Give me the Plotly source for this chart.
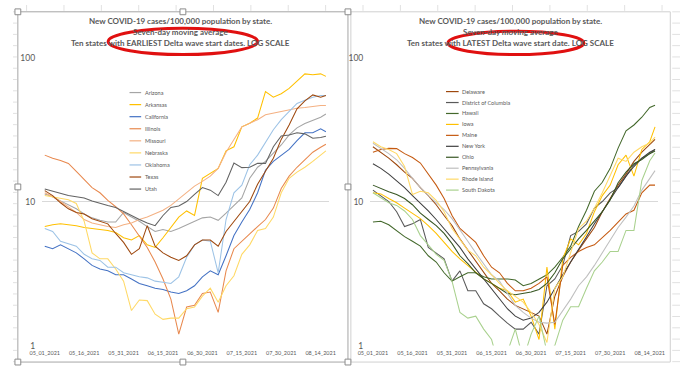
import plotly.graph_objects as go

W, H = 687, 369

# ---------------- data ----------------
dates = ["2021-05-01", "2021-05-04", "2021-05-07", "2021-05-10", "2021-05-13", "2021-05-16",
         "2021-05-19", "2021-05-22", "2021-05-25", "2021-05-28", "2021-05-31", "2021-06-03",
         "2021-06-06", "2021-06-09", "2021-06-12", "2021-06-15", "2021-06-18", "2021-06-21",
         "2021-06-24", "2021-06-27", "2021-06-30", "2021-07-03", "2021-07-06", "2021-07-09",
         "2021-07-12", "2021-07-15", "2021-07-18", "2021-07-21", "2021-07-24", "2021-07-27",
         "2021-07-30", "2021-08-02", "2021-08-05", "2021-08-08", "2021-08-11", "2021-08-14",
         "2021-08-16"]

tick_dates = ["2021-05-01", "2021-05-16", "2021-05-31", "2021-06-15", "2021-06-30",
              "2021-07-15", "2021-07-30", "2021-08-14"]
tick_text = ["05_01_2021", "05_16_2021", "05_31_2021", "06_15_2021", "06_30_2021",
             "07_15_2021", "07_30_2021", "08_14_2021"]

# Left chart: earliest Delta wave start
left_states = ["Arizona", "Arkansas", "California", "Illinois", "Missouri",
               "Nebraska", "Oklahoma", "Texas", "Utah"]
arizona = [11.3, 10.8, 10.1, 9.5, 8.9, 8.2, 7.7, 7.4, 7.2, 7.2, 8.4, 7.8, 7.3, 6.7, 6.2, 6.4, 6.2,
           6.5, 6.9, 7.3, 7.7, 7.8, 7.4, 8.3, 9.4, 10.6, 14.5, 17.3, 19.0, 21.6, 24.7, 29, 32.5,
           34.8, 36.5, 38.5, 40.5]
arkansas = [6.7, 6.9, 7.0, 6.9, 6.8, 6.6, 6.5, 6.4, 6.3, 6.1, 5.6, 5.4, 5.8, 5.0, 4.8, 5.6, 6.6,
            7.8, 8.6, 8.0, 14.5, 15.7, 17.0, 22.5, 24, 33, 35, 38, 58, 53, 56, 61, 68, 77, 76,
            77, 74]
california = [4.9, 4.7, 5.0, 4.7, 4.4, 4.0, 3.6, 3.4, 3.3, 3.1, 3.1, 2.9, 2.7, 2.6, 2.5, 2.45,
              2.35, 2.3, 2.4, 2.6, 3.0, 3.3, 3.1, 4.2, 5.8, 7.2, 8.8, 11.5, 16.5, 19, 20.8, 23,
              26.5, 30, 30, 32, 30.5]
illinois = [21, 20, 19.3, 18.4, 16.2, 14.2, 12.5, 11.5, 10.2, 9.2, 8.2, 6.9, 5.8, 4.8, 3.8, 2.9,
            2.1, 1.2, 1.85, 1.9, 2.3, 2.35, 1.7, 3.3, 4.7, 5.3, 6.0, 6.7, 7.5, 9.0, 12.3, 15.0,
            17.3, 19.5, 22.0, 23.8, 25]
missouri = [11.5, 10.8, 10.0, 9.2, 8.4, 7.5, 7.1, 6.9, 6.7, 6.6, 6.9, 7.1, 7.5, 7.8, 8.2, 8.7,
            9.4, 10.4, 11.6, 12.8, 13.8, 15.0, 17.0, 22, 27, 33, 35, 37, 40, 41, 42, 43.5, 44.5,
            45, 46, 46.5, 46.5]
nebraska = [11, 10.8, 10.5, 10.3, 9.7, 7.3, 4.4, 4.0, 4.0, 3.4, 2.8, 1.75, 2.07, 2.05, 1.65,
            1.52, 1.55, 1.55, 1.8, 1.85, 2.2, 2.5, 2.0, 2.6, 3.05, 4.3, 5.0, 6.3, 6.5, 7.8, 11.5,
            14.5, 16.0, 17.3, 19.0, 21.0, 22.5]
oklahoma = [6.5, 6.2, 5.3, 5.1, 4.9, 4.3, 4.0, 3.9, 3.5, 3.5, 3.2, 3.1, 3.0, 2.95, 2.8, 2.75,
            2.7, 3.0, 4.1, 5.0, 5.4, 5.3, 3.2, 7.5, 11.5, 13, 18, 21, 26, 31.5, 37, 42, 48, 50.5,
            53, 54.5, 54.5]
texas = [11.9, 11.0, 9.8, 8.9, 8.4, 8.2, 7.6, 7.3, 7.0, 6.0, 5.2, 4.3, 4.7, 6.8, 4.9, 4.4, 4.1,
         3.9, 4.2, 5.0, 5.4, 5.4, 4.9, 6.2, 7.3, 8.6, 10.0, 13.2, 16.4, 20, 27, 34, 44, 50, 55,
         53, 54.5]
utah = [12.2, 11.8, 11.4, 11.0, 10.8, 10.6, 10.1, 9.7, 9.4, 9.1, 8.5, 8.0, 7.5, 7.1, 6.8, 8.0,
        9.1, 9.3, 10.0, 11.2, 12.5, 12.0, 11.0, 13.6, 18.5, 17.2, 17.3, 18.4, 18.4, 24, 28.5, 29,
        30, 29.5, 27.5, 27.8, 28.4]
left_values = [arizona, arkansas, california, illinois, missouri, nebraska, oklahoma, texas, utah]
left_colors = ["#A5A5A5", "#FFC000", "#4472C4", "#E8894F", "#F4B183",
               "#FFD966", "#9DC3E6", "#9E480E", "#636363"]

# Right chart: latest Delta wave start
right_states = ["Delaware", "District of Columbia", "Hawaii", "Iowa", "Maine",
                "New York", "Ohio", "Pennsylvania", "Rhode Island", "South Dakota"]
delaware = [24, 22, 20, 18, 16, 14.5, 12.5, 11, 9.5, 8, 6.8, 5.5, 4.6, 3.8, 3.2, 2.7, 2.4, 2.1,
            1.9, 1.8, 1.7, 1.6, 1.2, 2.2, 3.0, 3.8, 4.6, 5.5, 6.6, 8.5, 10.5, 13, 15.5, 19, 22,
            25, 27]
dist_columbia = [12, 11, 10, 8.5, 6.7, 7.0, 7.5, 4.8, 4.4, 4.0, 2.8, 3.3, 2.4, 2.4, 1.95, 1.8,
                 1.6, 1.43, 1.3, 1.3, 1.45, 1.2, 2.6, 2.9, 3.6, 5.8, 6.2, 7.0, 9.0, 10.0, 11.5,
                 12.5, 15, 18, 20, 21.5, 23]
hawaii = [7.2, 7.3, 6.9, 6.3, 5.7, 5.3, 4.9, 4.2, 3.8, 3.2, 2.8, 3.0, 3.2, 3.2, 3.0, 2.9, 2.9,
          2.9, 2.85, 2.6, 2.7, 2.9, 3.1, 3.5, 4.1, 4.9, 6.7, 8.7, 11.8, 13.6, 17, 23.5, 31, 34,
          38.5, 45, 46.6]
iowa = [11.5, 11.3, 10.5, 9.8, 9.0, 8.3, 7.6, 6.8, 6.0, 5.2, 4.5, 4.0, 3.6, 3.2, 2.9, 2.7, 2.5,
        2.4, 2.0, 2.1, 1.6, 1.1, 3.5, 1.3, 4.0, 5.5, 5.0, 6.0, 8.5, 11, 13, 18, 21, 15, 23, 26,
        33]
maine = [22, 23, 23.4, 23.3, 21.5, 20.2, 18.5, 15.5, 13, 10.5, 8, 6.5, 5.8, 5.2, 4.2, 3.5, 3.2,
         2.7, 2.4, 2.4, 2.5, 2.7, 3.0, 1.4, 3.6, 4.1, 4.5, 4.8, 5.0, 5.6, 6.3, 7.2, 8.2, 8.7,
         11.5, 13, 13]
new_york = [18.3, 17, 15.5, 14, 12.5, 11, 9.8, 8.6, 7.5, 6.5, 5.6, 4.8, 4.0, 3.4, 2.9, 2.5, 2.1,
            1.8, 1.6, 1.5, 1.55, 1.7, 2.0, 2.5, 3.1, 3.8, 4.7, 5.7, 7.0, 8.5, 10.5, 12.5, 15,
            17.5, 20, 22, 23]
ohio = [13, 12.3, 11.7, 11.2, 10.5, 9.5, 8.3, 7.5, 6.8, 6.0, 5.1, 4.2, 3.7, 3.2, 2.9, 2.7, 2.5,
        2.3, 2.25, 2.3, 2.35, 2.45, 2.7, 3.2, 4.0, 4.7, 5.5, 6.3, 7.3, 8.5, 10.3, 13.5, 16, 18.3,
        19.6, 21.5, 22.4]
pennsylvania = [25.4, 23.5, 21.5, 19.5, 17, 14.5, 12.5, 11, 9.8, 8.8, 7.6, 6.4, 5.3, 4.4, 3.7,
                3.1, 2.8, 2.3, 1.9, 1.7, 1.55, 1.45, 1.43, 1.45, 1.75, 2.1, 2.6, 3.0, 3.6, 4.4,
                5.4, 6.6, 7.8, 9.3, 12.0, 14.5, 16.4]
rhode_island = [26, 24, 23, 21.5, 17.5, 11.2, 11.8, 11.5, 10.2, 8.5, 6.5, 5.5, 4.6, 4.2, 3.5,
                3.1, 2.7, 2.4, 2.2, 2.0, 1.7, 1.4, 1.05, 2.5, 3.0, 4.5, 6.5, 7.3, 9.0, 11.5, 15,
                20, 19, 22, 24, 25.5, 28]
south_dakota = [11.5, 10.6, 9.8, 9.4, 8.6, 7.5, 5.8, 5.0, 4.3, 3.9, 2.8, 1.7, 1.55, 1.6, 1.3,
                1.1, 0.7, 0.9, 1.3, 0.8, 1.2, 1.6, 0.9, 1.0, 1.5, 1.86, 1.86, 2.5, 3.3, 3.8, 4.5,
                4.5, 6.3, 6.3, 14, 19.2, 21.7]
right_values = [delaware, dist_columbia, hawaii, iowa, maine, new_york, ohio,
                pennsylvania, rhode_island, south_dakota]
right_colors = ["#9E480E", "#595959", "#43682B", "#FFC000", "#C55A11",
                "#404040", "#375623", "#BFBFBF", "#FFD966", "#A9D18E"]

y_ticks = [1, 10, 100]

titles_left = ["New COVID-19 cases/100,000 population by state.",
               "Seven-day moving average",
               "Ten states with EARLIEST Delta wave start dates. LOG SCALE"]
titles_right = ["New COVID-19 cases/100,000 population by state.",
                "Seven-day moving average",
                "Ten states with LATEST Delta wave start date. LOG SCALE"]

# ---------------- figure ----------------
def px(x):
    return x / W


def py(y):
    return 1 - y / H


fig = go.Figure()
for name, vals, col in zip(left_states, left_values, left_colors):
    fig.add_trace(go.Scatter(x=dates, y=vals, mode="lines", name=name, showlegend=False,
                             line=dict(color=col, width=1.05), xaxis="x", yaxis="y"))
for name, vals, col in zip(right_states, right_values, right_colors):
    fig.add_trace(go.Scatter(x=dates, y=vals, mode="lines", name=name, showlegend=False,
                             line=dict(color=col, width=1.05), xaxis="x2", yaxis="y2"))

TXT = "#595959"
FONT = "Lato, 'Open Sans', sans-serif"

xcommon = dict(type="date", range=["2021-04-30", "2021-08-17"], showgrid=False,
               zeroline=False, showline=False, tickmode="array", tickvals=tick_dates,
               ticktext=tick_text, tickfont=dict(size=5.5, color=TXT, family=FONT),
               tickangle=0, ticks="", ticklabelstandoff=3)
ycommon = dict(type="log", range=[0, 2], showgrid=True, gridcolor="#D9D9D9", gridwidth=1,
               zeroline=False, showline=False, tickmode="array", tickvals=y_ticks,
               ticktext=[str(v) for v in y_ticks], tickfont=dict(size=8.5, color=TXT, family=FONT),
               ticks="", ticklabelstandoff=6)

fig.update_layout(
    width=W, height=H, margin=dict(l=0, r=0, t=0, b=0),
    paper_bgcolor="white", plot_bgcolor="white", showlegend=False,
    xaxis=dict(domain=[px(30), px(325)], anchor="y", **xcommon),
    yaxis=dict(domain=[py(350), py(54)], anchor="x", **ycommon),
    xaxis2=dict(domain=[px(368), px(664)], anchor="y2", **xcommon),
    yaxis2=dict(domain=[py(350), py(54)], anchor="x2", **ycommon),
)

shapes = []
annotations = []

# faint spreadsheet cell lines around the charts
CELL = "#E1E1E1"
for k in range(18):
    cx = 14 + 38.5 * k
    shapes.append(dict(type="line", xref="paper", yref="paper", x0=px(cx), x1=px(cx),
                       y0=py(6), y1=py(0), line=dict(color=CELL, width=1)))
for k in range(32):
    ry = 7 + 11.6 * k
    shapes.append(dict(type="line", xref="paper", yref="paper", x0=px(0), x1=px(4),
                       y0=py(ry), y1=py(ry), line=dict(color=CELL, width=1)))
    shapes.append(dict(type="line", xref="paper", yref="paper", x0=px(679), x1=px(687),
                       y0=py(ry), y1=py(ry), line=dict(color=CELL, width=1)))

# chart borders
shapes.append(dict(type="rect", xref="paper", yref="paper", x0=px(5), x1=px(345),
                   y0=py(367), y1=py(7), line=dict(color="#A6A6A6", width=1), fillcolor="white",
                   layer="below"))
shapes.append(dict(type="rect", xref="paper", yref="paper", x0=px(348), x1=px(677),
                   y0=py(367), y1=py(7), line=dict(color="#D0D0D0", width=1), fillcolor="white",
                   layer="below"))
# selection handles on the left chart
for hx in (5, 175, 345):
    for hy in (7, 187, 367):
        if hx == 175 and hy == 187:
            continue
        shapes.append(dict(type="rect", xref="paper", yref="paper",
                           x0=px(hx - 3), x1=px(hx + 3), y0=py(hy + 3), y1=py(hy - 3),
                           line=dict(color="#8C8C8C", width=1), fillcolor="white"))

# titles
for lines, cx in ((titles_left, 173), (titles_right, 512)):
    for i, t in enumerate(lines):
        annotations.append(dict(text="<b>" + t + "</b>", xref="paper", yref="paper",
                                x=px(cx), y=py(16 + 11.6 * i), xanchor="center", yanchor="middle",
                                showarrow=False, font=dict(size=8, color=TXT, family=FONT)))

# red ellipses
shapes.append(dict(type="circle", xref="paper", yref="paper", x0=px(98), x1=px(252),
                   y0=py(51), y1=py(24), line=dict(color="#E01010", width=3)))
shapes.append(dict(type="circle", xref="paper", yref="paper", x0=px(448), x1=px(588),
                   y0=py(51), y1=py(27), line=dict(color="#E01010", width=3)))

# legends
for states, cols, lx0, lx1, y0, dy in ((left_states, left_colors, 120, 132, 90, 12.4),
                                        (right_states, right_colors, 446, 459, 89, 11.25)):
    for i, (s, c) in enumerate(zip(states, cols)):
        yy = y0 + dy * i
        shapes.append(dict(type="line", xref="paper", yref="paper", x0=px(lx0), x1=px(lx1),
                           y0=py(yy), y1=py(yy), line=dict(color=c, width=1.2)))
        annotations.append(dict(text=s, xref="paper", yref="paper", x=px(lx1 + 1.5), y=py(yy),
                                xanchor="left", yanchor="middle", showarrow=False,
                                font=dict(size=5.5, color=TXT, family=FONT)))

fig.update_layout(shapes=shapes, annotations=annotations)
fig.write_html("out.html", config={"displayModeBar": False},
               post_script="document.body.style.margin='0px';document.body.style.overflow='hidden';")
